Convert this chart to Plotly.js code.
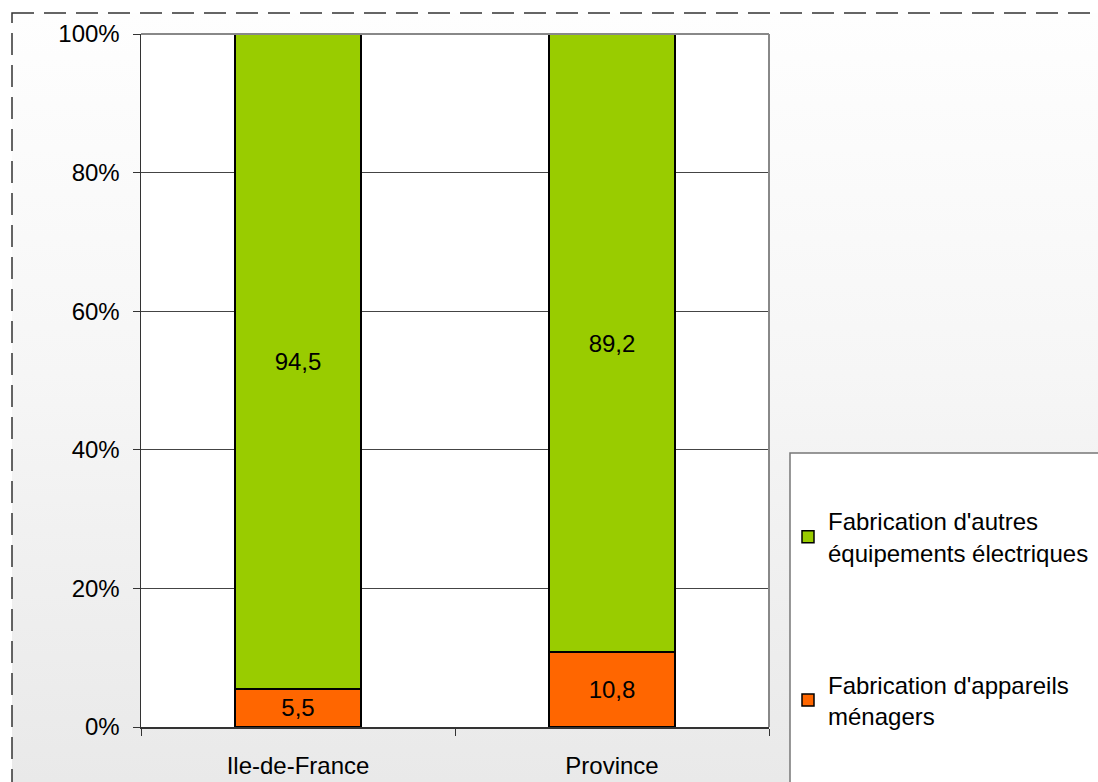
<!DOCTYPE html>
<html>
<head>
<meta charset="utf-8">
<script src="https://cdn.plot.ly/plotly-3.0.1.min.js"></script>
<style>
  html, body { margin: 0; padding: 0; background: #ffffff; width: 1098px; height: 782px; overflow: hidden; }
  #frame { position: absolute; left: 12px; top: 13px; width: 1110px; height: 800px;
           background: linear-gradient(to bottom, #fefefe 0%, #f6f6f6 45%, #e8e8e8 100%); }
  #chart { position: absolute; left: 0; top: 0; width: 1098px; height: 782px; }
</style>
</head>
<body>
<div id="frame"></div>
<div id="chart"></div>
<script>
const categories = ["Ile-de-France", "Province"];
const menagers = [5.5, 10.8];
const autres = [94.5, 89.2];
const seriesNames = ["Fabrication d'appareils<br>ménagers", "Fabrication d'autres<br>équipements électriques"];
const yTickVals = [0, 20, 40, 60, 80, 100];

const W = 1098, H = 782, L = 141, R = 329, T = 34, B = 55;
const pw = W - L - R, ph = H - T - B;
const px = v => (v - L) / pw;
const py = v => (H - B - v) / ph;

const font = { family: "Liberation Sans, Arial, sans-serif", size: 24, color: "#000" };

const traces = [
  { type: "bar", x: categories, y: menagers, name: seriesNames[0],
    marker: { color: "#ff6600", line: { color: "#000", width: 1.5 } },
    texttemplate: "%{y:.1f}", textposition: "inside", insidetextanchor: "middle",
    textfont: font, legendrank: 2, legendgroup: "b", width: 0.4 },
  { type: "bar", x: categories, y: autres, name: seriesNames[1],
    marker: { color: "#99cc00", line: { color: "#000", width: 1.5 } },
    texttemplate: "%{y:.1f}", textposition: "inside", insidetextanchor: "middle",
    textfont: font, legendrank: 1, legendgroup: "a", width: 0.4 }
];

const layout = {
  width: W, height: H,
  margin: { l: L, r: R, t: T, b: B, pad: 0, autoexpand: false },
  paper_bgcolor: "rgba(0,0,0,0)",
  plot_bgcolor: "#ffffff",
  separators: ", ",
  barmode: "stack",
  font: font,
  showlegend: true,
  legend: { x: px(788), y: py(499), xanchor: "left", yanchor: "top",
            bgcolor: "rgba(0,0,0,0)", borderwidth: 0, font: font,
            traceorder: "grouped", tracegroupgap: 98, itemwidth: 30 },
  xaxis: { type: "category", tickson: "boundaries", ticks: "outside", ticklen: 7,
           tickcolor: "#333", showline: true, linecolor: "#333", linewidth: 1.5,
           showgrid: false, tickfont: font, range: [-0.5, 1.5], ticklabelstandoff: 17 },
  yaxis: { range: [0, 100], tickvals: yTickVals, ticktext: yTickVals.map(v => v + "%"),
           ticks: "outside", ticklen: 7, tickcolor: "#333",
           showline: true, linecolor: "#333", linewidth: 1.5,
           showgrid: true, gridcolor: "#444", gridwidth: 1, zeroline: false,
           tickfont: font, ticklabelstandoff: 8 },
  shapes: [
    { type: "rect", xref: "paper", yref: "paper", x0: px(12), x1: px(1130), y0: py(13), y1: py(820),
      fillcolor: "rgba(0,0,0,0)", line: { color: "#333", width: 1.5, dash: "22px,10px" }, layer: "below" },
    { type: "line", xref: "paper", yref: "paper", x0: 0, x1: 1, y0: 1, y1: 1,
      line: { color: "#888", width: 2 } },
    { type: "line", xref: "paper", yref: "paper", x0: 1, x1: 1, y0: 0, y1: 1,
      line: { color: "#888", width: 2 } },
    { type: "rect", xref: "paper", yref: "paper", x0: px(790), x1: px(1120), y0: py(453), y1: py(800),
      fillcolor: "#ffffff", line: { color: "#777", width: 1.5 }, layer: "below" }
  ]
};

Plotly.newPlot("chart", traces, layout, { displayModeBar: false, staticPlot: true });
</script>
</body>
</html>
